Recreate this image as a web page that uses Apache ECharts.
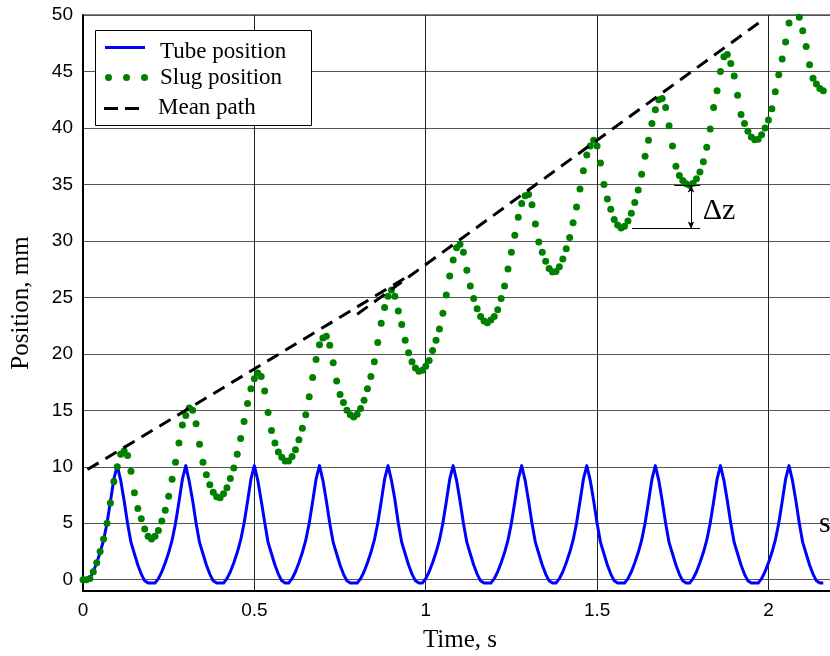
<!DOCTYPE html>
<html>
<head>
<meta charset="utf-8">
<title>Tube and slug position</title>
<script src="https://cdn.jsdelivr.net/npm/echarts@6/dist/echarts.min.js"></script>
<style>
  html, body { margin: 0; padding: 0; background: #fff; }
  #chart { width: 830px; height: 656px; }
</style>
</head>
<body>
<div id="chart"></div>
<script>
// sampling step of both recorded traces, s
const DT = 0.01;

// tube position, mm (one sample per DT, starting at t = 0)
const tubePos = [
  0.0, 0.0, 0.1, 0.7, 1.5, 2.4, 3.5, 5.0, 6.9, 8.9, 10.1,
  8.8, 7.0, 5.0, 3.3, 2.3, 1.3, 0.5, -0.1, -0.3, -0.3,
  -0.3, 0.1, 0.7, 1.5, 2.4, 3.5, 5.0, 6.9, 8.9, 10.1,
  8.7, 7.0, 5.0, 3.3, 2.3, 1.3, 0.5, -0.1, -0.3, -0.3,
  -0.3, 0.1, 0.7, 1.5, 2.4, 3.5, 5.0, 6.9, 8.9, 10.1,
  8.8, 7.0, 5.1, 3.3, 2.3, 1.3, 0.5, -0.1, -0.3, -0.3,
  0.1, 0.7, 1.5, 2.4, 3.5, 5.0, 6.9, 8.9, 10.1,
  8.8, 7.0, 5.0, 3.3, 2.3, 1.3, 0.5, -0.1, -0.3, -0.3, -0.3,
  0.1, 0.7, 1.5, 2.4, 3.5, 5.0, 6.9, 8.9, 10.1,
  8.8, 7.1, 5.0, 3.3, 2.3, 1.3, 0.5, -0.1, -0.3, -0.3,
  0.1, 0.7, 1.5, 2.4, 3.5, 5.0, 6.9, 8.9, 10.1,
  8.8, 7.0, 5.0, 3.3, 2.3, 1.3, 0.5, -0.1, -0.3, -0.3, -0.3,
  0.1, 0.7, 1.5, 2.4, 3.5, 5.0, 6.9, 8.9, 10.1,
  8.8, 7.0, 5.0, 3.3, 2.3, 1.3, 0.5, -0.1, -0.3, -0.3,
  0.1, 0.7, 1.5, 2.4, 3.5, 5.0, 6.9, 8.9, 10.1,
  8.8, 7.0, 5.0, 3.3, 2.3, 1.3, 0.5, -0.1, -0.3, -0.3, -0.3,
  0.1, 0.7, 1.5, 2.4, 3.5, 5.0, 6.9, 8.9, 10.1,
  8.8, 7.0, 5.0, 3.3, 2.3, 1.3, 0.5, -0.1, -0.3, -0.3,
  0.1, 0.7, 1.5, 2.4, 3.5, 5.0, 6.9, 8.9, 10.1,
  8.8, 7.0, 5.0, 3.3, 2.3, 1.3, 0.5, -0.1, -0.3, -0.3, -0.3,
  0.1, 0.7, 1.5, 2.4, 3.5, 5.0, 6.9, 8.9, 10.1,
  8.8, 7.0, 5.0, 3.3, 2.3, 1.3, 0.5, -0.1, -0.3, -0.3
];

// slug position, mm (same time base as the tube)
const slugPos = [
  0.0, 0.0, 0.1, 0.7, 1.5, 2.5, 3.6, 5.0, 6.8, 8.7,
  10.0, 11.1, 11.4, 11.0, 9.6, 7.7, 6.3, 5.4, 4.5, 3.85,
  3.6, 3.85, 4.35, 5.2, 6.15, 7.4, 8.9, 10.4, 12.1, 13.7,
  14.55, 15.2, 15.0, 13.8, 12.0, 10.4, 9.3, 8.4, 7.75, 7.35,
  7.25, 7.6, 8.15, 8.95, 9.9, 11.1, 12.5, 14.0, 15.6, 16.9,
  17.8, 18.3, 18.0, 16.7, 14.8, 13.2, 12.1, 11.3, 10.85, 10.5,
  10.5, 10.9, 11.5, 12.4, 13.4, 14.6, 16.2, 17.9, 19.5, 20.8,
  21.4, 21.55, 20.75, 19.2, 17.6, 16.4, 15.7, 15.0, 14.6, 14.4,
  14.65, 15.15, 15.9, 16.9, 18.0, 19.3, 21.0, 22.7, 24.1, 25.1,
  25.65, 25.1, 23.8, 22.6, 21.2, 20.1, 19.3, 18.75, 18.45, 18.55,
  18.9, 19.4, 20.3, 21.2, 22.2, 23.6, 25.2, 26.9, 28.3, 29.4,
  29.7, 29.0, 27.4, 26.0, 24.9, 24.0, 23.3, 22.9, 22.75, 23.0,
  23.3, 23.9, 24.9, 26.0, 27.5, 29.0, 30.5, 32.1, 33.3, 34.0,
  34.1, 33.2, 31.5, 29.9, 29.0, 28.2, 27.55, 27.25, 27.3, 27.7,
  28.4, 29.3, 30.3, 31.6, 33.0, 34.6, 36.2, 37.6, 38.4, 38.9,
  38.4, 36.9, 35.0, 33.7, 32.8, 31.9, 31.4, 31.15, 31.3, 31.75,
  32.45, 33.4, 34.5, 35.9, 37.5, 38.9, 40.4, 41.6, 42.5, 42.6,
  41.8, 40.2, 38.4, 36.6, 35.8, 35.35, 35.05, 34.92, 35.1, 35.5,
  36.1, 37.0, 38.3, 39.9, 41.8, 43.3, 45.0, 46.3, 46.5, 45.7,
  44.6, 42.9, 41.2, 40.4, 39.7, 39.2, 38.95, 39.0, 39.4, 40.0,
  40.7, 41.7, 43.2, 44.7, 46.1, 47.6, 49.3, 50.3, 50.4, 49.8,
  48.6, 47.2, 45.6, 44.4, 43.9, 43.5, 43.3
];

// mean path, drawn as two overlapping straight pieces like in the source figure
const meanPathA = [[0.013, 9.75], [0.95, 26.9]];
const meanPathB = [[0.80, 23.5], [1.976, 49.4]];

const xTicks = [0, 0.5, 1, 1.5, 2];
const yTicks = [0, 5, 10, 15, 20, 25, 30, 35, 40, 45, 50];

// Δz marker: troughs of the 8th and 9th slug cycle (mm) and where the marker sits (s)
const dzLow = 31.1;
const dzHigh = 34.9;
const dzLowFrom = 1.602, dzHighFrom = 1.725, dzTo = 1.801, dzArrowAt = 1.774;
const dzLabelAt = [1.808, 32.6];

const SANS = 'Liberation Sans, Arial, sans-serif';
const SERIF = 'Liberation Serif, Times New Roman, serif';

const withTime = (arr) => arr.map((v, i) => [+(i * DT).toFixed(2), v]);

const chart = echarts.init(document.getElementById('chart'), null, { renderer: 'canvas' });

chart.setOption({
  animation: false,
  backgroundColor: '#fff',
  textStyle: { fontFamily: SANS },
  grid: {
    left: 83, top: 15, width: 754, height: 576,
    show: true, borderColor: '#000', borderWidth: 1,
    outerBoundsMode: 'none'
  },
  xAxis: {
    type: 'value', min: 0, max: 2.2,
    name: 'Time, s', nameLocation: 'middle', nameGap: 37,
    nameTextStyle: { fontFamily: SERIF, fontSize: 25, color: '#000' },
    axisLine: { show: true, onZero: false, lineStyle: { color: '#000', width: 2 } },
    axisTick: { show: false, customValues: xTicks },
    axisLabel: { customValues: xTicks, margin: 10, fontSize: 19, fontFamily: SANS, color: '#000' },
    splitLine: { show: true, lineStyle: { color: '#222', width: 1 } }
  },
  yAxis: {
    type: 'value', min: -1, max: 50,
    name: 'Position, mm', nameLocation: 'middle', nameGap: 49,
    nameTextStyle: { fontFamily: SERIF, fontSize: 25, color: '#000' },
    axisLine: { show: true, onZero: false, lineStyle: { color: '#000', width: 2 } },
    axisTick: { show: false, customValues: yTicks },
    axisLabel: { customValues: yTicks, margin: 10, fontSize: 19, fontFamily: SANS, color: '#000' },
    splitLine: { show: true, lineStyle: { color: '#555', width: 1 } }
  },
  series: [
    {
      name: 'Tube position',
      type: 'line',
      data: withTime(tubePos),
      showSymbol: false,
      symbol: 'none',
      lineStyle: { color: '#0000ff', width: 3, join: 'round' },
      z: 2
    },
    {
      name: 'Slug position',
      type: 'scatter',
      data: withTime(slugPos),
      symbolSize: 7,
      itemStyle: { color: '#008000', opacity: 1 },
      clip: true,
      z: 3,
      markLine: {
        silent: true,
        symbol: ['none', 'none'],
        label: { show: false },
        lineStyle: { color: '#000', width: 1, type: 'solid' },
        emphasis: { disabled: true },
        data: [
          [{ coord: [dzLowFrom, dzLow] }, { coord: [dzTo, dzLow] }],
          [{ coord: [dzHighFrom, dzHigh] }, { coord: [dzTo, dzHigh] }],
          [
            { coord: [dzArrowAt, dzHigh], symbol: 'arrow', symbolSize: [5, 7] },
            { coord: [dzArrowAt, dzLow], symbol: 'arrow', symbolSize: [5, 7] }
          ]
        ]
      },
      markPoint: {
        silent: true,
        symbol: 'circle',
        symbolSize: 0,
        label: {
          show: true, position: 'right', distance: 0,
          formatter: 'Δz', fontSize: 30, fontFamily: SERIF, color: '#000'
        },
        data: [{ coord: dzLabelAt }]
      }
    },
    {
      name: 'Mean path',
      type: 'line',
      data: meanPathA,
      symbol: 'none',
      lineStyle: { color: '#000', width: 3, type: [13, 8] },
      z: 4
    },
    {
      name: 'Mean path',
      type: 'line',
      data: meanPathB,
      symbol: 'none',
      lineStyle: { color: '#000', width: 3, type: [13, 8] },
      z: 4
    }
  ],
  // boxed legend in the top-left corner, plus the clipped letter at the right edge
  graphic: [
    { type: 'rect', z: 100, shape: { x: 95.5, y: 30.5, width: 216, height: 95 },
      style: { fill: '#fff', stroke: '#000', lineWidth: 1 } },
    { type: 'line', z: 101, shape: { x1: 105, y1: 47.5, x2: 145, y2: 47.5 },
      style: { stroke: '#0000ff', lineWidth: 3 } },
    { type: 'circle', z: 101, shape: { cx: 108.5, cy: 77.5, r: 3.5 }, style: { fill: '#008000' } },
    { type: 'circle', z: 101, shape: { cx: 126.5, cy: 77.5, r: 3.5 }, style: { fill: '#008000' } },
    { type: 'circle', z: 101, shape: { cx: 144.5, cy: 77.5, r: 3.5 }, style: { fill: '#008000' } },
    { type: 'line', z: 101, shape: { x1: 104, y1: 108.5, x2: 139, y2: 108.5 },
      style: { stroke: '#000', lineWidth: 3, lineDash: [14, 7] } },
    { type: 'text', z: 101, x: 160, y: 52,
      style: { text: 'Tube position', font: '23px ' + SERIF, fill: '#000', verticalAlign: 'middle' } },
    { type: 'text', z: 101, x: 160, y: 78,
      style: { text: 'Slug position', font: '23px ' + SERIF, fill: '#000', verticalAlign: 'middle' } },
    { type: 'text', z: 101, x: 158, y: 108,
      style: { text: 'Mean path', font: '23px ' + SERIF, fill: '#000', verticalAlign: 'middle' } },
    { type: 'text', z: 101, x: 819, y: 524,
      style: { text: 's', font: '30px ' + SERIF, fill: '#000', verticalAlign: 'middle' } }
  ]
});
</script>
</body>
</html>
